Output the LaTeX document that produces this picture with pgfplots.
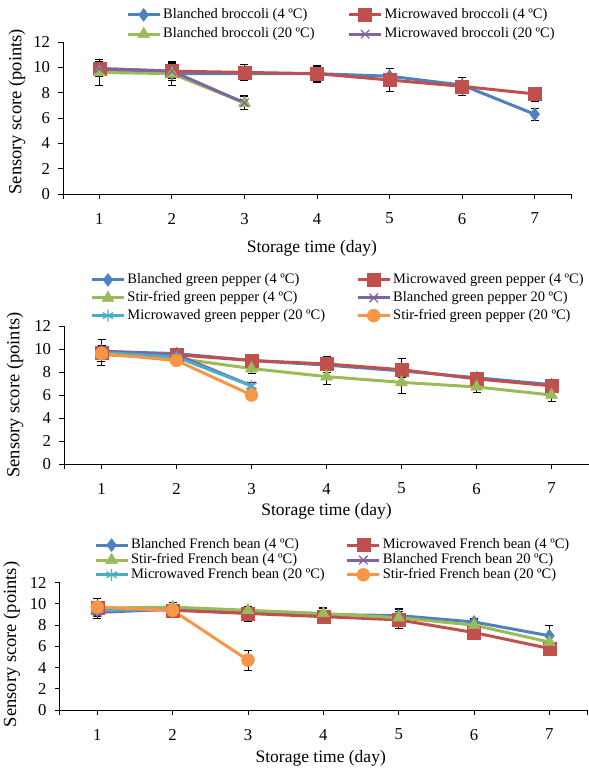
\documentclass[border=0pt]{standalone}
\usepackage{fontspec}
\setmainfont{Liberation Serif}
\usepackage{pgfplots}
\pgfplotsset{compat=1.18}

\definecolor{xblue}{HTML}{4F81BD}
\definecolor{xred}{HTML}{C0504D}
\definecolor{xgreen}{HTML}{9BBB59}
\definecolor{xpurple}{HTML}{8064A2}
\definecolor{xaqua}{HTML}{4BACC6}
\definecolor{xorange}{HTML}{F79646}

\pgfplotsset{
  panel/.style={
    scale only axis, anchor=south west,
    axis lines=left, axis line style={-, line width=0.9pt},
    xmin=0.5, xmax=7.5, ymin=0, ymax=12,
    xtick={1,...,7}, ytick={0,2,...,12},
    extra x ticks={0.5,7.5}, extra x tick labels={},
    tick align=outside, major tick length=4.5pt,
    tick style={black, line width=0.9pt},
    /pgf/number format/assume math mode=true,
    ticklabel style={font=\fontsize{16.7}{19}\selectfont},
    xticklabel style={yshift=-11pt},
    yticklabel style={xshift=-5pt},
    xlabel style={font=\fontsize{17.5}{21}\selectfont},
    ylabel style={font=\fontsize{18.5}{22}\selectfont},
    xlabel={Storage time (day)}, ylabel={Sensory score (points)},
    legend columns=2, legend cell align=left,
    legend style={draw=none, fill=none, anchor=north west, inner sep=0pt,
      font=\fontsize{14.5}{17}\selectfont,
      nodes={inner sep=0pt, text height=10.5pt, text depth=3pt},
      /tikz/every odd column/.append style={column sep=2pt}},
    legend image code/.code={\draw[mark repeat=2,mark phase=2,##1] plot coordinates {(0pt,0pt) (16pt,0pt) (32pt,0pt)};},
  },
  eb/.style={solid, line width=3pt,
    error bars/y dir=both, error bars/y explicit,
    error bars/error bar style={black, line width=0.8pt, solid},
    error bars/error mark options={rotate=90, black, line width=0.8pt, mark size=4pt}},
  sblue/.style={eb, xblue, mark=diamond*, mark size=6.5pt, mark options={solid, line width=0.4pt, fill=xblue}},
  sred/.style={eb, xred, mark=square*, mark size=6.5pt, mark options={solid, line width=0.4pt, fill=xred}},
  sgreen/.style={eb, xgreen, mark=triangle*, mark size=7pt, mark options={solid, line width=0.4pt, fill=xgreen}},
  spurple/.style={eb, xpurple, mark=x, mark size=6pt, mark options={solid, line width=1.3pt}},
  saqua/.style={eb, xaqua, mark=asterisk, mark size=6pt, mark options={solid, line width=1.3pt}},
  sorange/.style={eb, xorange, mark=*, mark size=6.5pt, mark options={solid, line width=0.4pt, fill=xorange}},
}

% broccoli
\pgfplotstableread{
x y e
1 9.8 0.3
2 9.5 0.5
3 9.5 0.4
4 9.5 0.6
5 9.3 0.6
6 8.6 0.6
7 6.3 0.45
}\bBlue
\pgfplotstableread{
x y e
1 9.9 0.6
2 9.7 0.7
3 9.6 0.65
4 9.5 0.65
5 9.0 0.9
6 8.5 0.7
7 7.9 0.55
}\bRed
\pgfplotstableread{
x y e
1 9.6 1.0
2 9.5 0.95
3 7.2 0.5
}\bGreen
\pgfplotstableread{
x y e
1 9.9 0.5
2 9.7 0.6
3 7.2 0.55
}\bPurple

% green pepper
\pgfplotstableread{
x y e
1 9.8 0.5
2 9.6 0.4
3 9.0 0.4
4 8.6 0.6
5 8.1 0.6
6 7.5 0.4
7 6.9 0.4
}\pBlue
\pgfplotstableread{
x y e
1 9.7 1.1
2 9.5 0.4
3 9.0 0.4
4 8.7 0.7
5 8.2 1.0
6 7.4 0.5
7 6.8 0.5
}\pRed
\pgfplotstableread{
x y e
1 9.5 0.6
2 9.2 0.4
3 8.3 0.4
4 7.6 0.7
5 7.1 0.95
6 6.7 0.5
7 6.0 0.55
}\pGreen
\pgfplotstableread{
x y e
1 9.8 0.5
2 9.5 0.4
3 6.8 0.3
}\pPurple
\pgfplotstableread{
x y e
1 9.7 0.5
2 9.3 0.4
3 6.8 0.3
}\pAqua
\pgfplotstableread{
x y e
1 9.6 0.7
2 9.0 0.3
3 6.0 0.3
}\pOrange

% French bean
\pgfplotstableread{
x y e
1 9.4 0.5
2 9.6 0.5
3 9.3 0.4
4 9.0 0.6
5 8.9 0.7
6 8.3 0.3
7 7.0 1.0
}\fBlue
\pgfplotstableread{
x y e
1 9.6 0.5
2 9.4 0.5
3 9.1 0.7
4 8.8 0.6
5 8.5 0.8
6 7.3 0.4
7 5.8 0.4
}\fRed
\pgfplotstableread{
x y e
1 9.6 0.5
2 9.7 0.4
3 9.4 0.4
4 9.1 0.6
5 8.7 0.8
6 8.0 0.5
7 6.4 0.5
}\fGreen
\pgfplotstableread{
x y e
1 9.2 0.6
2 9.5 0.5
}\fPurple
\pgfplotstableread{
x y e
1 9.4 0.6
2 9.5 0.5
}\fAqua
\pgfplotstableread{
x y e
1 9.7 0.8
2 9.4 0.5
3 4.7 0.95
}\fOrange

\begin{document}
\begin{tikzpicture}
% panel 1
\begin{axis}[panel, at={(63pt,-194pt)}, width=508pt, height=152pt,
  xlabel style={at={(axis description cs:0.49,-0.36)}, anchor=center},
  ylabel style={at={(axis description cs:-0.0906,0.541)}, anchor=center},
  legend style={at={(axis description cs:0.124,1.224)}, row sep=5.5pt,
    /tikz/every even column/.append style={column sep=33pt}}]
\addplot[sblue] table[x=x, y=y, y error=e] {\bBlue};
\addlegendentry{Blanched broccoli (4 ºC)}
\addplot[sred] table[x=x, y=y, y error=e] {\bRed};
\addlegendentry{Microwaved broccoli (4 ºC)}
\addplot[sgreen] table[x=x, y=y, y error=e] {\bGreen};
\addlegendentry{Blanched broccoli (20 ºC)}
\addplot[spurple] table[x=x, y=y, y error=e] {\bPurple};
\addlegendentry{Microwaved broccoli (20 ºC)}
\end{axis}

% panel 2
\begin{axis}[panel, at={(64pt,-464pt)}, width=525pt, height=138pt,
  xlabel style={at={(axis description cs:0.5,-0.345)}, anchor=center},
  ylabel style={at={(axis description cs:-0.0933,0.5)}, anchor=center},
  legend style={at={(axis description cs:0.05,1.384)}, row sep=4.2pt,
    /tikz/every even column/.append style={column sep=31pt}}]
\addplot[sblue] table[x=x, y=y, y error=e] {\pBlue};
\addlegendentry{Blanched green pepper (4 ºC)}
\addplot[sred] table[x=x, y=y, y error=e] {\pRed};
\addlegendentry{Microwaved green pepper (4 ºC)}
\addplot[sgreen] table[x=x, y=y, y error=e] {\pGreen};
\addlegendentry{Stir-fried green pepper (4 ºC)}
\addplot[spurple] table[x=x, y=y, y error=e] {\pPurple};
\addlegendentry{Blanched green pepper 20 ºC)}
\addplot[saqua] table[x=x, y=y, y error=e] {\pAqua};
\addlegendentry{Microwaved green pepper (20 ºC)}
\addplot[sorange] table[x=x, y=y, y error=e] {\pOrange};
\addlegendentry{Stir-fried green pepper (20 ºC)}
\end{axis}

% panel 3
\begin{axis}[panel, at={(59.6pt,-710pt)}, width=527.5pt, height=127.3pt,
  xlabel style={at={(axis description cs:0.495,-0.38)}, anchor=center},
  ylabel style={at={(axis description cs:-0.091,0.515)}, anchor=center},
  legend style={at={(axis description cs:0.065,1.35)}, row sep=1.2pt,
    /tikz/every even column/.append style={column sep=21pt}}]
\addplot[sblue] table[x=x, y=y, y error=e] {\fBlue};
\addlegendentry{Blanched French bean (4 ºC)}
\addplot[sred] table[x=x, y=y, y error=e] {\fRed};
\addlegendentry{Microwaved French bean (4 ºC)}
\addplot[sgreen] table[x=x, y=y, y error=e] {\fGreen};
\addlegendentry{Stir-fried French bean (4 ºC)}
\addplot[spurple] table[x=x, y=y, y error=e] {\fPurple};
\addlegendentry{Blanched French bean 20 ºC)}
\addplot[saqua] table[x=x, y=y, y error=e] {\fAqua};
\addlegendentry{Microwaved French bean (20 ºC)}
\addplot[sorange] table[x=x, y=y, y error=e] {\fOrange};
\addlegendentry{Stir-fried French bean (20 ºC)}
\end{axis}

\pgfresetboundingbox
\useasboundingbox (0pt,0pt) rectangle (589pt,-772pt);
\end{tikzpicture}
\end{document}
